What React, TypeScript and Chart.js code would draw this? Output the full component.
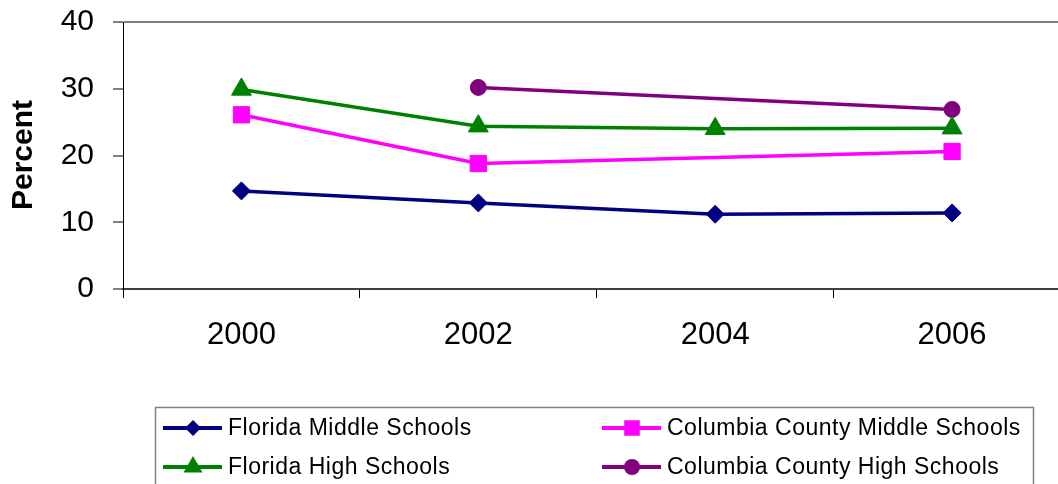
import React, { useEffect, useRef } from "react";
import { Chart, registerables } from "chart.js";

Chart.register(...registerables);

const categories = ["2000", "2002", "2004", "2006"];
const floridaMiddle = [14.7, 12.9, 11.2, 11.4];
const columbiaMiddle = [26.1, 18.8, null, 20.6];
const floridaHigh = [29.9, 24.4, 24.0, 24.1];
const columbiaHigh = [null, 30.2, null, 26.9];
const seriesNames = [
  "Florida Middle Schools",
  "Columbia County Middle Schools",
  "Florida High Schools",
  "Columbia County High Schools",
];
const yTicks = [0, 10, 20, 30, 40];
const yTitle = "Percent";

const FONT = "'Liberation Sans', Arial, sans-serif";

function drawMarker(ctx: CanvasRenderingContext2D, style: string, r: number, x: number, y: number, color: string) {
  ctx.fillStyle = color;
  ctx.beginPath();
  if (style === "rectRot") {
    ctx.moveTo(x - r, y);
    ctx.lineTo(x, y - r);
    ctx.lineTo(x + r, y);
    ctx.lineTo(x, y + r);
    ctx.closePath();
  } else if (style === "rect") {
    const s = r * Math.SQRT1_2;
    ctx.rect(x - s, y - s, 2 * s, 2 * s);
  } else if (style === "triangle") {
    ctx.moveTo(x, y - r);
    ctx.lineTo(x + r * 0.866, y + r * 0.5);
    ctx.lineTo(x - r * 0.866, y + r * 0.5);
    ctx.closePath();
  } else {
    ctx.arc(x, y, r, 0, Math.PI * 2);
  }
  ctx.fill();
}

const legendPlugin = {
  id: "customLegend",
  afterDraw(chart: any) {
    const ctx = chart.ctx;
    ctx.save();
    ctx.save();
    ctx.translate(24, 155);
    ctx.rotate(-Math.PI / 2);
    ctx.font = `bold 30px ${FONT}`;
    ctx.fillStyle = "#000";
    ctx.textAlign = "center";
    ctx.textBaseline = "middle";
    ctx.fillText(yTitle, 0, 0);
    ctx.restore();

    ctx.strokeStyle = "#808080";
    ctx.lineWidth = 1.5;
    ctx.strokeRect(155.5, 407.5, 878, 90);
    const positions = [
      { x: 163, y: 428 },
      { x: 602, y: 428 },
      { x: 163, y: 467 },
      { x: 602, y: 467 },
    ];
    const legendRadius = [8, 11, 11, 8];
    chart.data.datasets.forEach((ds: any, i: number) => {
      const p = positions[i];
      ctx.strokeStyle = ds.borderColor;
      ctx.lineWidth = 4;
      ctx.beginPath();
      ctx.moveTo(p.x, p.y);
      ctx.lineTo(p.x + 59, p.y);
      ctx.stroke();
      drawMarker(ctx, ds.pointStyle, legendRadius[i], p.x + 30, p.y, ds.backgroundColor);
      ctx.fillStyle = "#000";
      ctx.font = `23px ${FONT}`;
      (ctx as any).letterSpacing = "0.5px";
      ctx.textAlign = "left";
      ctx.textBaseline = "middle";
      ctx.fillText(ds.label, p.x + 65, p.y + 1);
      (ctx as any).letterSpacing = "0px";
    });
    ctx.restore();
  },
};

export default function App() {
  const ref = useRef<HTMLCanvasElement>(null);
  useEffect(() => {
    document.body.style.margin = "0";
    const mk = (label: string, data: any[], color: string, style: string, r: number) => ({
      label,
      data,
      borderColor: color,
      backgroundColor: color,
      pointBackgroundColor: color,
      pointBorderColor: color,
      pointBorderWidth: 1,
      pointStyle: style,
      pointRadius: r,
      borderWidth: 3.5,
      spanGaps: true,
      tension: 0,
    });
    const chart = new Chart(ref.current!, {
      type: "line",
      data: {
        labels: categories,
        datasets: [
          mk(seriesNames[0], floridaMiddle, "#000080", "rectRot", 9),
          mk(seriesNames[1], columbiaMiddle, "#FF00FF", "rect", 11.5),
          mk(seriesNames[2], floridaHigh, "#008000", "triangle", 11.5),
          mk(seriesNames[3], columbiaHigh, "#800080", "circle", 8),
        ],
      },
      options: {
        responsive: false,
        animation: false,
        layout: { padding: { top: 22, left: 0, right: 1, bottom: 0 } },
        plugins: { legend: { display: false }, tooltip: { enabled: false } },
        scales: {
          x: {
            offset: true,
            grid: {
              offset: true,
              drawOnChartArea: false,
              drawTicks: true,
              tickLength: 9,
              tickColor: "#000",
              tickWidth: 1,
            },
            border: { color: "#404040", width: 2 },
            ticks: {
              color: "#000",
              font: { family: FONT, size: 31 },
              padding: 19,
              maxRotation: 0,
            },
            afterFit: (s: any) => {
              s.height = 195;
              s.paddingLeft = 0;
              s.paddingRight = 0;
            },
          },
          y: {
            min: 0,
            max: 40,
            afterBuildTicks: (s: any) => {
              s.ticks = yTicks.map((v) => ({ value: v }));
            },
            grid: {
              color: (c: any) => (c.tick && c.tick.value === 40 ? "#808080" : "rgba(0,0,0,0)"),
              lineWidth: 2,
              drawTicks: true,
              tickLength: 10,
              tickColor: "#000",
              tickWidth: 1,
            },
            border: { color: "#000", width: 1 },
            ticks: {
              color: "#000",
              font: { family: FONT, size: 30 },
              padding: 19,
            },
            afterFit: (s: any) => {
              s.width = 123;
              s.paddingTop = 0;
              s.paddingBottom = 0;
            },
          },
        },
      },
      plugins: [legendPlugin],
    });
    return () => chart.destroy();
  }, []);
  return (
    <div style={{ position: "absolute", left: 0, top: 0, width: 1058, height: 484, overflow: "hidden", background: "#fff" }}>
      <canvas ref={ref} width={1083} height={484} style={{ width: 1083, height: 484, display: "block" }} />
    </div>
  );
}
